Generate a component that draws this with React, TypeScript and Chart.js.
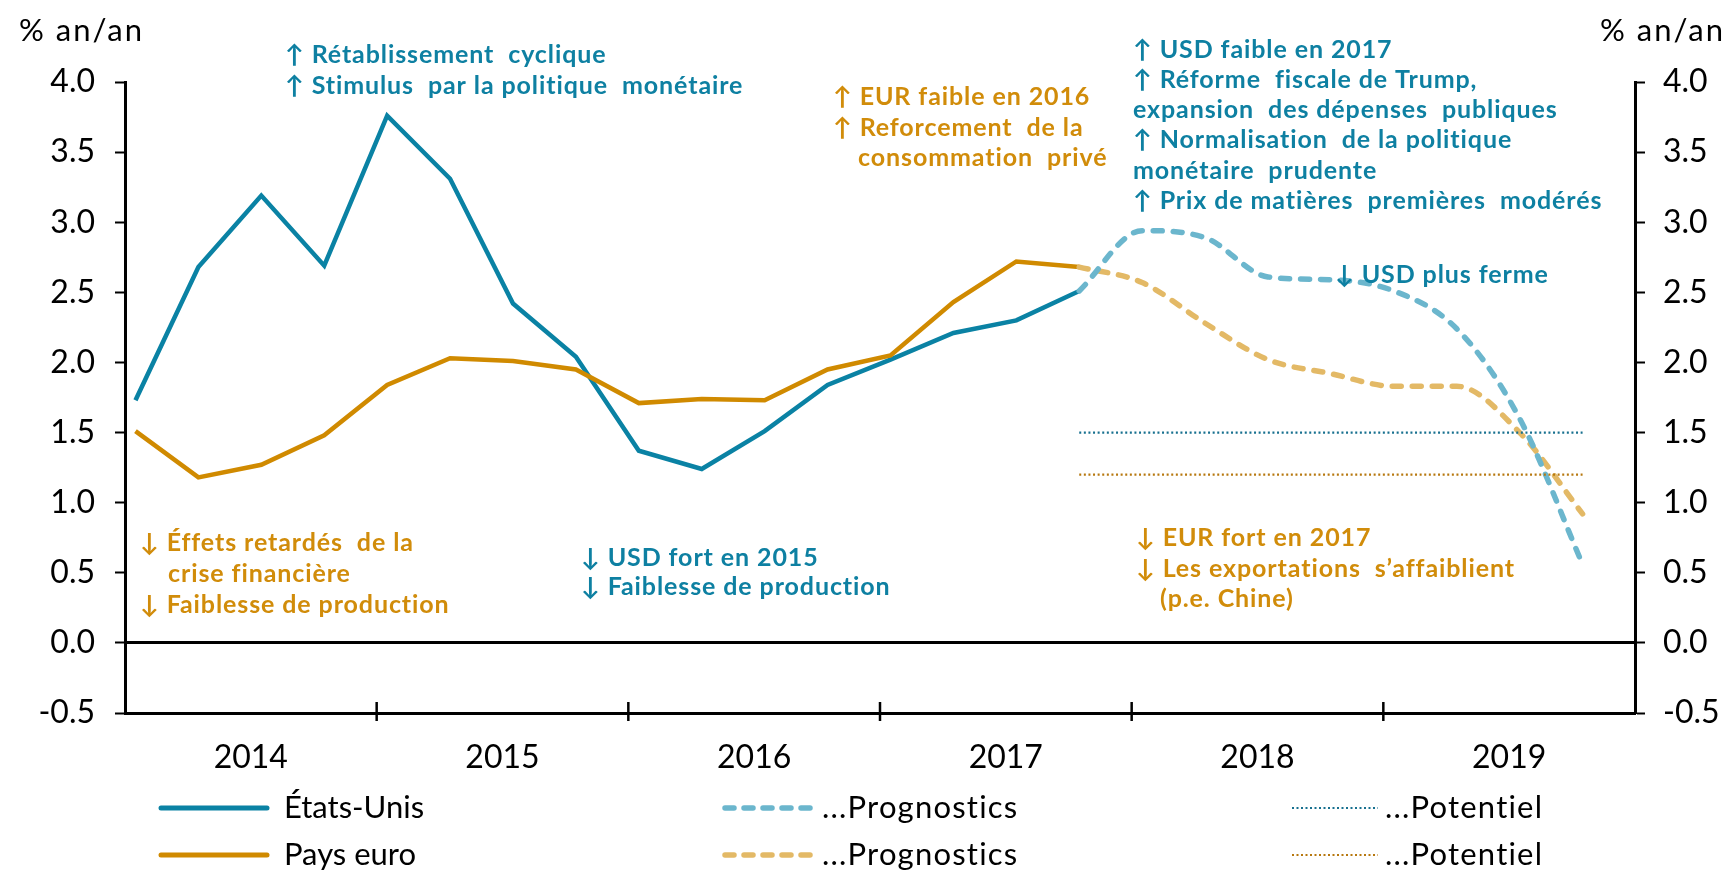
import React, { useEffect, useRef } from 'react';
import { Chart, registerables } from 'chart.js';

Chart.register(...registerables);

// ---------- DATA ----------
const quartersActual = [
  '2014Q1', '2014Q2', '2014Q3', '2014Q4',
  '2015Q1', '2015Q2', '2015Q3', '2015Q4',
  '2016Q1', '2016Q2', '2016Q3', '2016Q4',
  '2017Q1', '2017Q2', '2017Q3', '2017Q4',
];
const quartersForecast = [
  '2017Q4', '2018Q1', '2018Q2', '2018Q3', '2018Q4',
  '2019Q1', '2019Q2', '2019Q3', '2019Q4',
];
const usActual = [1.73, 2.68, 3.19, 2.69, 3.76, 3.31, 2.42, 2.04, 1.37, 1.24, 1.51, 1.84, 2.02, 2.21, 2.3, 2.51];
const euActual = [1.51, 1.18, 1.27, 1.48, 1.84, 2.03, 2.01, 1.95, 1.71, 1.74, 1.73, 1.95, 2.05, 2.43, 2.72, 2.68];
const usForecast = [2.51, 2.94, 2.89, 2.61, 2.59, 2.51, 2.24, 1.6, 0.56];
const euForecast = [2.68, 2.57, 2.28, 2.02, 1.92, 1.83, 1.83, 1.5, 0.92];
const usPotential = 1.5;
const euPotential = 1.2;
const yearTicks = [2014, 2015, 2016, 2017, 2018, 2019, 2020];
const yMin = -0.5;
const yMax = 4.0;
const yStep = 0.5;
const axisTitle = '% an/an';
const legendLabels = ['États-Unis', '...Prognostics', '...Potentiel', 'Pays euro', '...Prognostics', '...Potentiel'];

const annotationsUS1 = ['↑ Rétablissement  cyclique', '↑ Stimulus  par la politique  monétaire'];
const annotationsEU1 = ['↑ EUR faible en 2016', '↑ Reforcement  de la', 'consommation  privé'];
const annotationsUS2 = [
  '↑ USD faible en 2017',
  '↑ Réforme  fiscale de Trump,',
  'expansion  des dépenses  publiques',
  '↑ Normalisation  de la politique',
  'monétaire  prudente',
  '↑ Prix de matières  premières  modérés',
];
const annotationsUS3 = ['↓ USD plus ferme'];
const annotationsEU2 = ['↓ Éffets retardés  de la', 'crise financière', '↓ Faiblesse de production'];
const annotationsUS4 = ['↓ USD fort en 2015', '↓ Faiblesse de production'];
const annotationsEU3 = ['↓ EUR fort en 2017', '↓ Les exportations  s’affaiblient', '(p.e. Chine)'];

// ---------- STYLE ----------
const FONT = 'Lato, "Noto Sans", "DejaVu Sans", sans-serif';
const C_US = '#0A82A4';
const C_US_F = '#6BB6CD';
const C_US_P = '#17708F';
const C_EU = '#D08A00';
const C_EU_F = '#E3B966';
const C_EU_P = '#B7780F';
const C_US_TXT = '#0E80A2';
const C_EU_TXT = '#D18C0A';

const qx = (q: string) => Number(q.slice(0, 4)) + (Number(q.slice(5)) - 1) / 4 + 1 / 24;
const toPts = (qs: string[], vals: number[]) => qs.map((q, i) => ({ x: qx(q), y: vals[i] }));
const flatPts = (qs: string[], v: number) => [{ x: qx(qs[0]), y: v }, { x: qx(qs[qs.length - 1]), y: v }];

type Block = { lines: string[]; color: string; x: number; y: number; lh: number; indents?: number[] };
const blocks: Block[] = [
  { lines: annotationsUS1, color: C_US_TXT, x: 285, y: 55, lh: 30.5 },
  { lines: annotationsEU1, color: C_EU_TXT, x: 833, y: 97, lh: 30.5, indents: [0, 0, 25] },
  { lines: annotationsUS2, color: C_US_TXT, x: 1133, y: 49.5, lh: 30.3 },
  { lines: annotationsUS3, color: C_US_TXT, x: 1335, y: 275, lh: 30 },
  { lines: annotationsEU2, color: C_EU_TXT, x: 140, y: 543, lh: 31, indents: [0, 28, 0] },
  { lines: annotationsUS4, color: C_US_TXT, x: 581, y: 558, lh: 29 },
  { lines: annotationsEU3, color: C_EU_TXT, x: 1136, y: 538, lh: 30.5, indents: [0, 0, 24] },
];

const overlayPlugin = {
  id: 'overlay',
  afterDraw(chart: any) {
    const ctx = chart.ctx as CanvasRenderingContext2D;
    const { chartArea } = chart;
    const xs = chart.scales.x;
    ctx.save();
    // x-axis year-boundary ticks crossing the axis
    ctx.strokeStyle = '#000';
    ctx.lineWidth = 2.5;
    yearTicks.slice(1, -1).forEach((yr) => {
      const px = xs.getPixelForValue(yr);
      ctx.beginPath();
      ctx.moveTo(px, chartArea.bottom - 11);
      ctx.lineTo(px, chartArea.bottom + 8);
      ctx.stroke();
    });
    // axis titles
    ctx.fillStyle = '#000';
    ctx.font = `31px ${FONT}`;
    ctx.textBaseline = 'middle';
    ctx.textAlign = 'left';
    (ctx as any).letterSpacing = '2px';
    ctx.fillText(axisTitle, 19, 31);
    ctx.fillText(axisTitle, 1600, 31);
    // annotations
    ctx.font = `bold 25px ${FONT}`;
    (ctx as any).letterSpacing = '0.9px';
    blocks.forEach((b) => {
      ctx.fillStyle = b.color;
      b.lines.forEach((t, i) => {
        ctx.fillText(t, b.x + (b.indents ? b.indents[i] : 0), b.y + i * b.lh);
      });
    });
    // legend
    const cols = [
      { x0: 158, x1: 270, tx: 284 },
      { x0: 722, x1: 815, tx: 822 },
      { x0: 1292, x1: 1378, tx: 1385 },
    ];
    const rows = [808, 855];
    const styles = [
      { color: C_US, dash: [] as number[], w: 5, cap: 'round' },
      { color: C_US_F, dash: [9, 10], w: 5.5, cap: 'round' },
      { color: C_US_P, dash: [2, 2.5], w: 2, cap: 'butt' },
      { color: C_EU, dash: [] as number[], w: 5, cap: 'round' },
      { color: C_EU_F, dash: [9, 10], w: 5.5, cap: 'round' },
      { color: C_EU_P, dash: [2, 2.5], w: 2, cap: 'butt' },
    ];
    ctx.font = `31px ${FONT}`;
    legendLabels.forEach((lab, i) => {
      const c = cols[i % 3];
      const y = rows[Math.floor(i / 3)];
      const s = styles[i];
      ctx.beginPath();
      ctx.setLineDash(s.dash);
      ctx.lineCap = s.cap as CanvasLineCap;
      ctx.strokeStyle = s.color;
      ctx.lineWidth = s.w;
      ctx.moveTo(c.x0 + (s.cap === 'round' ? 3 : 0), y);
      ctx.lineTo(c.x1 - (s.cap === 'round' ? 3 : 0), y);
      ctx.stroke();
      ctx.setLineDash([]);
      ctx.fillStyle = '#000';
      (ctx as any).letterSpacing = i % 3 === 0 ? '0px' : '1.2px';
      ctx.fillText(lab, c.tx, y);
    });
    (ctx as any).letterSpacing = '0px';
    ctx.restore();
  },
};

export default function App() {
  const ref = useRef<HTMLCanvasElement>(null);
  useEffect(() => {
    document.body.style.margin = '0';
    const tickFont = { family: FONT, size: 32 };
    const chart = new Chart(ref.current as HTMLCanvasElement, {
      type: 'line',
      data: {
        datasets: [
          {
            label: 'US potential',
            data: flatPts(quartersForecast, usPotential),
            borderColor: C_US_P,
            borderWidth: 2.2,
            borderDash: [2, 2.6],
            pointRadius: 0,
            yAxisID: 'y',
          },
          {
            label: 'EU potential',
            data: flatPts(quartersForecast, euPotential),
            borderColor: C_EU_P,
            borderWidth: 2.2,
            borderDash: [2, 2.6],
            pointRadius: 0,
            yAxisID: 'y',
          },
          {
            label: 'US forecast',
            data: toPts(quartersForecast, usForecast),
            borderColor: C_US_F,
            borderWidth: 5.5,
            borderDash: [9, 11],
            borderCapStyle: 'round',
            cubicInterpolationMode: 'monotone',
            pointRadius: 0,
            yAxisID: 'y',
          },
          {
            label: 'EU forecast',
            data: toPts(quartersForecast, euForecast),
            borderColor: C_EU_F,
            borderWidth: 5.5,
            borderDash: [9, 11],
            borderCapStyle: 'round',
            cubicInterpolationMode: 'monotone',
            pointRadius: 0,
            yAxisID: 'y',
          },
          {
            label: 'Pays euro',
            data: toPts(quartersActual, euActual),
            borderColor: C_EU,
            borderWidth: 4.5,
            pointRadius: 0,
            tension: 0,
            yAxisID: 'y',
          },
          {
            label: 'États-Unis',
            data: toPts(quartersActual, usActual),
            borderColor: C_US,
            borderWidth: 4.5,
            pointRadius: 0,
            tension: 0,
            yAxisID: 'y',
          },
        ],
      },
      options: {
        animation: false,
        responsive: false,
        maintainAspectRatio: false,
        layout: { padding: { top: 82, left: 0, right: 0, bottom: 0 } },
        plugins: { legend: { display: false }, tooltip: { enabled: false } },
        scales: {
          x: {
            type: 'linear',
            position: 'bottom',
            min: yearTicks[0],
            max: yearTicks[yearTicks.length - 1],
            afterBuildTicks: (s: any) => {
              s.ticks = yearTicks.map((v) => ({ value: v }));
            },
            afterFit: (s: any) => {
              s.height = 159;
            },
            grid: { display: false, drawTicks: false },
            border: { display: true, color: '#000', width: 3 },
            ticks: {
              autoSkip: false,
              maxRotation: 0,
              padding: 25,
              labelOffset: 125.8,
              color: '#000',
              font: tickFont,
              callback: (v: any) => (Number(v) < yearTicks[yearTicks.length - 1] ? String(v) : ''),
            },
          },
          y: {
            position: 'left',
            min: yMin,
            max: yMax,
            afterFit: (s: any) => {
              s.width = 125;
            },
            grid: {
              drawOnChartArea: true,
              color: (c: any) => (c.tick && c.tick.value === 0 ? '#000' : 'rgba(0,0,0,0)'),
              lineWidth: (c: any) => (c.tick && c.tick.value === 0 ? 3 : 1),
              tickColor: '#000',
              tickWidth: 2,
              tickLength: 10,
            },
            border: { display: true, color: '#000', width: 3 },
            ticks: {
              stepSize: yStep,
              padding: 20,
              color: '#000',
              font: tickFont,
              callback: (v: any) => Number(v).toFixed(1),
            },
          },
          y2: {
            position: 'right',
            min: yMin,
            max: yMax,
            afterFit: (s: any) => {
              s.width = 94;
            },
            grid: {
              drawOnChartArea: false,
              tickColor: '#000',
              tickWidth: 2,
              tickLength: 10,
            },
            border: { display: true, color: '#000', width: 3 },
            ticks: {
              stepSize: yStep,
              padding: 18,
              color: '#000',
              font: tickFont,
              callback: (v: any) => Number(v).toFixed(1),
            },
          },
        },
      },
      plugins: [overlayPlugin],
    } as any);
    return () => chart.destroy();
  }, []);
  return (
    <div style={{ width: 1729, height: 872 }}>
      <canvas ref={ref} width={1729} height={872} style={{ display: 'block' }} />
    </div>
  );
}
